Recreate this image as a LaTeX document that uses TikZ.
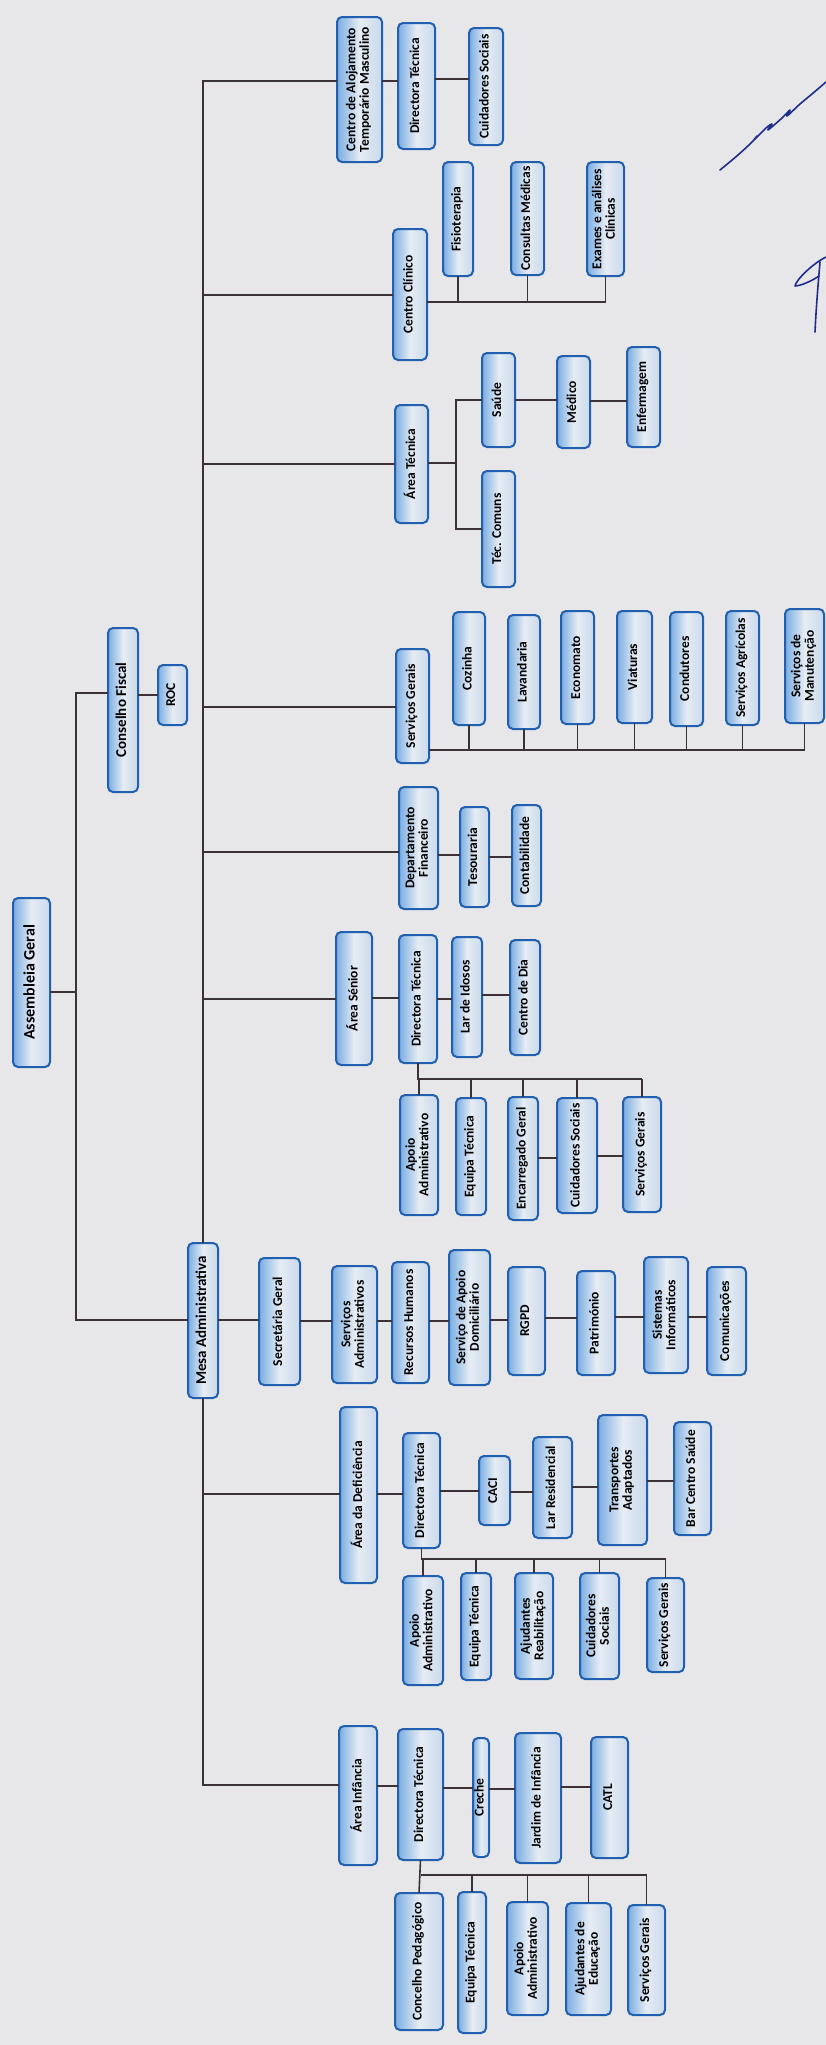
\documentclass[tikz,border=0pt]{standalone}
\usepackage{fontspec}
\setmainfont{Carlito}
\usepackage{graphicx}
\definecolor{paper}{HTML}{E7E7E9}
\definecolor{bxline}{HTML}{2160B0}
\definecolor{bxl}{HTML}{7AADE2}
\definecolor{bxm}{HTML}{E6ECF3}
\definecolor{bxr}{HTML}{C9D9EC}
\definecolor{ln}{HTML}{3A3236}
\definecolor{ink}{HTML}{1E2C8C}
\tikzset{
 bx/.style={draw=bxline, line width=2pt, rounded corners=5pt, left color=bxl, right color=bxr, middle color=bxm, inner sep=0pt, outer sep=0pt, font=\bfseries\fontsize{13.5}{13.5}\selectfont, align=center},
 big/.style={font=\bfseries\fontsize{16}{16}\selectfont},
 mid/.style={font=\bfseries\fontsize{15}{15}\selectfont},
 cn/.style={draw=ln, line width=1.6pt},
 sig/.style={draw=ink, line width=1.6pt, line cap=round, line join=round},
}
\newcommand{\bx}[7][]{\node[bx, #1, minimum width={(#5-#3)*1pt}, minimum height={(#6-#4)*1pt}] (#2) at ({(#3+#5)/2},{(#4+#6)/2}) {\rotatebox{90}{\begin{tabular}{@{}c@{}}#7\end{tabular}}};}
\newcommand{\hc}[3]{\draw[cn] (#1.east |- 0,#3) -- (#2.west |- 0,#3);}
\newcommand{\vup}[2]{\draw[cn] (#1.north) -- (#1.north |- 0,#2);}
\newcommand{\vdn}[2]{\draw[cn] (#1.south) -- (#1.south |- 0,#2);}
\begin{document}
\begin{tikzpicture}[x=1pt,y=-1pt]
\fill[paper] (0,0) rectangle (826,2045);
\useasboundingbox (0,0) rectangle (826,2045);
% boxes
\bx{cat}{337}{17}{382}{162}{Centro de Alojamento\\Temporário Masculino}
\bx{catdt}{398}{23}{435}{149}{Directora Técnica}
\bx{catcs}{469}{28}{503}{145}{Cuidadores Sociais}
\bx{cc}{393}{229}{427}{360}{Centro Clínico}
\bx{fisio}{443}{162}{473}{276}{Fisioterapia}
\bx{consm}{511}{162}{544}{275}{Consultas Médicas}
\bx{exames}{587}{162}{624}{276}{Exames e análises\\Clínicas}
\bx{atec}{395}{405}{428}{523}{Área Técnica}
\bx{saude}{482}{353}{515}{447}{Saúde}
\bx{medico}{557}{356}{590}{448}{Médico}
\bx{enf}{627}{347}{660}{447}{Enfermagem}
\bx{teccom}{482}{471}{515}{587}{Téc. Comuns}
\bx[mid]{cfiscal}{108}{628}{138}{792}{Conselho Fiscal}
\bx{roc}{158}{665}{187}{725}{ROC}
\bx{sg}{396}{649}{429}{763}{Serviços Gerais}
\bx{coz}{453}{612}{485}{725}{Cozinha}
\bx{lav}{508}{615}{540}{729}{Lavandaria}
\bx{econ}{561}{611}{594}{724}{Economato}
\bx{viat}{617}{611}{652}{723}{Viaturas}
\bx{cond}{670}{612}{703}{726}{Condutores}
\bx{agric}{726}{611}{759}{725}{Serviços Agrícolas}
\bx{manut}{785}{609}{824}{723}{Serviços de\\Manutenção}
\bx{df}{399}{787}{438}{909}{Departamento\\Financeiro}
\bx{tes}{460}{807}{489}{907}{Tesouraria}
\bx{cont}{512}{805}{541}{906}{Contabilidade}
\bx[big]{ag}{13}{898}{50}{1067}{Assembleia Geral}
\bx{asen}{336}{932}{372}{1065}{Área Sénior}
\bx{asdt}{399}{935}{437}{1063}{Directora Técnica}
\bx{lar}{452}{937}{482}{1057}{Lar de Idosos}
\bx{cdia}{510}{940}{540}{1055}{Centro de Dia}
\bx{asaa}{400}{1095}{438}{1215}{Apoio\\Administrativo}
\bx{aset}{456}{1098}{486}{1215}{Equipa Técnica}
\bx{aseg}{508}{1097}{538}{1220}{Encarregado Geral}
\bx{ascs}{557}{1098}{597}{1213}{Cuidadores Sociais}
\bx{assg}{623}{1097}{661}{1212}{Serviços Gerais}
\bx[mid]{mesa}{188}{1243}{218}{1398}{Mesa Administrativa}
\bx{sec}{259}{1258}{300}{1385}{Secretária Geral}
\bx{sadm}{332}{1266}{377}{1383}{Serviços\\Administrativos}
\bx{rh}{392}{1262}{429}{1383}{Recursos Humanos}
\bx{sad}{449}{1250}{490}{1385}{Serviço de Apoio\\Domiciliário}
\bx{rgpd}{508}{1267}{545}{1375}{RGPD}
\bx{patr}{577}{1271}{615}{1375}{Património}
\bx{sinf}{644}{1257}{688}{1373}{Sistemas\\Informáticos}
\bx{com}{707}{1267}{746}{1375}{Comunicações}
\bx{adef}{340}{1407}{377}{1583}{Área da Deficiência}
\bx{addt}{403}{1433}{440}{1548}{Directora Técnica}
\bx{caci}{479}{1456}{510}{1525}{CACI}
\bx{lres}{533}{1437}{572}{1538}{Lar Residencial}
\bx{transp}{598}{1415}{647}{1545}{Transportes\\Adaptados}
\bx{bar}{674}{1422}{711}{1535}{Bar Centro Saúde}
\bx{adaa}{403}{1576}{443}{1685}{Apoio\\Administrativo}
\bx{adet}{461}{1573}{491}{1680}{Equipa Técnica}
\bx{adar}{515}{1573}{553}{1679}{Ajudantes\\Reabilitação}
\bx{adcs}{580}{1573}{619}{1679}{Cuidadores\\Sociais}
\bx{adsg}{647}{1578}{684}{1672}{Serviços Gerais}
\bx{ai}{339}{1726}{377}{1865}{Área Infância}
\bx{aidt}{398}{1729}{443}{1860}{Directora Técnica}
\bx{creche}{473}{1738}{489}{1857}{Creche}
\bx{jardim}{515}{1733}{561}{1863}{Jardim de Infância}
\bx{catl}{591}{1737}{628}{1858}{CATL}
\bx{cped}{395}{1893}{443}{2030}{Concelho Pedagógico}
\bx{aiet}{458}{1892}{486}{2033}{Equipa Técnica}
\bx{aiaa}{507}{1902}{548}{2015}{Apoio\\Administrativo}
\bx{aiaj}{566}{1903}{611}{2015}{Ajudantes de\\Educação}
\bx{aisg}{628}{1905}{665}{2015}{Serviços Gerais}
% trunk
\coordinate (tcat) at (203,81);
\coordinate (tai) at (203,1785);
\draw[cn] (cat.west |- tcat) -- (tcat) -- (mesa.north);
\draw[cn] (mesa.south) -- (tai) -- (ai.west |- tai);
\foreach \n/\y in {cc/295, atec/464, sg/707, df/852, asen/999, adef/1494}
  \draw[cn] (tcat |- 0,\y) -- (\n.west |- 0,\y);
% conselho fiscal / assembleia
\coordinate (cfa) at (76,693);
\coordinate (cfb) at (76,1320);
\draw[cn] (cfiscal.west |- cfa) -- (cfa) -- (cfb) -- (mesa.west |- cfb);
\draw[cn] (ag.east |- 0,992) -- (cfa |- 0,992);
\hc{cfiscal}{roc}{695}
% CAT
\hc{cat}{catdt}{81}
\hc{catdt}{catcs}{79}
% centro clinico
\draw[cn] (cc.east |- 0,302) -- (exames.south |- 0,302);
\vdn{fisio}{302}\vdn{consm}{302}\vdn{exames}{302}
% area tecnica
\coordinate (atb) at (456,463);
\draw[cn] (atec.east |- atb) -- (atb);
\draw[cn] (saude.west) -| (atb);
\draw[cn] (teccom.west) -| (atb);
\hc{saude}{medico}{400}
\hc{medico}{enf}{401}
% servicos gerais
\draw[cn] (sg.east |- 0,750) -- (manut.south |- 0,750);
\foreach \n in {coz,lav,econ,viat,cond,agric,manut} {\vdn{\n}{750}}
% dep financeiro
\hc{df}{tes}{855}
\hc{tes}{cont}{857}
% area senior
\hc{asen}{asdt}{998}
\hc{asdt}{lar}{999}
\hc{lar}{cdia}{995}
\draw[cn] (asdt.south) -- (asdt.south |- 0,1079) -- (assg.north |- 0,1079);
\foreach \n in {asaa,aset,aseg,ascs,assg} {\vup{\n}{1079}}
\hc{aseg}{ascs}{1158}
\hc{ascs}{assg}{1156}
% mesa row
\hc{mesa}{sec}{1320}
\hc{sec}{sadm}{1321}
\hc{sadm}{rh}{1321}
\hc{rh}{sad}{1321}
\hc{sad}{rgpd}{1320}
\hc{rgpd}{patr}{1318}
\hc{patr}{sinf}{1317}
\hc{sinf}{com}{1317}
% deficiencia
\hc{adef}{addt}{1494}
\hc{addt}{caci}{1491}
\hc{caci}{lres}{1492}
\hc{lres}{transp}{1487}
\hc{transp}{bar}{1481}
\draw[cn] (addt.south) -- (addt.south |- 0,1559) -- (adsg.north |- 0,1559);
\foreach \n in {adaa,adet,adar,adcs,adsg} {\vup{\n}{1559}}
% infancia
\hc{ai}{aidt}{1786}
\hc{aidt}{creche}{1788}
\hc{creche}{jardim}{1789}
\hc{jardim}{catl}{1787}
\draw[cn] (aidt.south) -- (cped.north);
\draw[cn] (aidt.south |- 0,1875) -- (aisg.north |- 0,1875);
\foreach \n in {aiet,aiaa,aiaj,aisg} {\vup{\n}{1875}}
% signature
\draw[sig] plot[smooth, tension=0.6] coordinates {(720,170) (738,155) (752,142) (757,136) (754,140) (766,128) (772,124) (768,130) (782,118) (790,110) (787,116) (800,104) (812,94) (826,82)};
\draw[sig] (826,257) .. controls (812,264) and (796,280) .. (795,286) .. controls (800,286) and (812,281) .. (819,276);
\draw[sig] (820,262) .. controls (818,285) and (816,310) .. (815,332);
\end{tikzpicture}
\end{document}
